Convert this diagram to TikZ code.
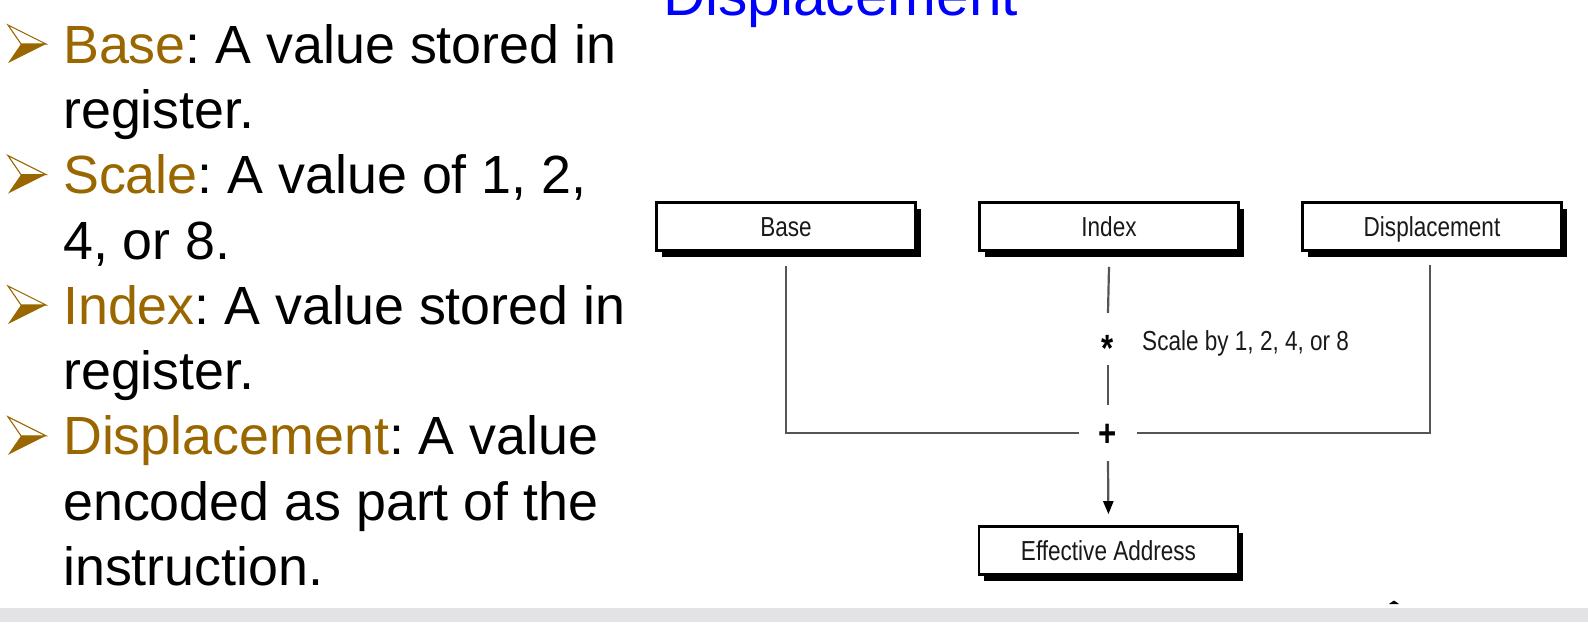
\documentclass[tikz,border=0pt]{standalone}
\usepackage{fontspec}
\setmainfont{Liberation Sans}
\newfontfamily\diagfont[FakeStretch=0.82]{Liberation Sans}
\usetikzlibrary{arrows.meta,shadows}
\definecolor{keybrown}{RGB}{153,102,0}
\definecolor{titleblue}{RGB}{0,0,255}
\definecolor{bandgray}{RGB}{227,227,229}
\definecolor{linegray}{RGB}{85,85,85}
\frenchspacing
\begin{document}
\begin{tikzpicture}[x=1pt,y=-1pt,
  bullettext/.style={anchor=base west, inner sep=0pt, font=\fontsize{53.8}{53.8}\selectfont},
  regbox/.style={draw=black, line width=2.6pt, fill=white, minimum width=259pt,
    minimum height=48pt, inner sep=0pt, text=black!90, text height=20pt, text depth=1pt,
    font=\diagfont\fontsize{27.5}{27.5}\selectfont,
    drop shadow={shadow xshift=5pt, shadow yshift=-6pt, opacity=1, fill=black}},
  opnode/.style={inner sep=0pt, text=black},
  diaglabel/.style={inner sep=0pt, text=black!90, font=\diagfont\fontsize{27.5}{27.5}\selectfont},
  conn/.style={draw=linegray, line width=2.2pt}
]
\useasboundingbox (0,0) rectangle (1588,622);
% bottom band
\fill[bandgray] (0,608) rectangle (1588,622);
\fill[black] (1389,604) -- (1394,600.5) -- (1399,604) -- cycle;
% title (cut off at top, as in the reference)
\node[anchor=base west, inner sep=0pt, text=titleblue,
  font=\fontsize{58.6}{58.6}\selectfont] (title) at (663,15) {Displacement};
% bullets
\foreach \b in {63,193.6,324,454.8}{
  \draw[keybrown, line width=1.1pt, line join=miter] (8,{\b-38}) -- (46,{\b-19}) -- (21,{\b-19}) -- cycle;
  \fill[keybrown] (21,{\b-19}) -- (46,{\b-19}) -- (8,{\b}) -- cycle;
}
\node[bullettext] (l1) at (63,63) {\textcolor{keybrown}{Base}: A value stored in};
\node[bullettext] (l2) at (63,128.3) {register.};
\node[bullettext] (l3) at (63,193.6) {\textcolor{keybrown}{Scale}: A value of 1, 2,};
\node[bullettext] (l4) at (63,259) {4, or 8.};
\node[bullettext] (l5) at (63,324) {\textcolor{keybrown}{Index}: A value stored in};
\node[bullettext] (l6) at (63,389.5) {register.};
\node[bullettext] (l7) at (63,454.8) {\textcolor{keybrown}{Displacement}: A value};
\node[bullettext] (l8) at (63,520) {encoded as part of the};
\node[bullettext] (l9) at (63,585.4) {instruction.};
% diagram
\node[regbox] (base) at (786,226.5) {Base};
\node[regbox] (index) at (1109,226.5) {Index};
\node[regbox] (disp) at (1432,226.5) {Displacement};
\node[regbox] (ea) at (1108.5,550.5) {Effective Address};
\node[opnode, minimum width=20pt, minimum height=52pt] (star) at (1108,339)
  {\smash{\raisebox{-22pt}{\diagfont\bfseries\fontsize{38}{38}\selectfont *}}};
\node[opnode, minimum width=57pt, minimum height=56pt] (plus) at (1108,433)
  {\smash{\raisebox{-13pt}{\diagfont\bfseries\fontsize{38}{38}\selectfont +}}};
\node[diaglabel, anchor=west] (scalelbl) at (1142,343) {Scale by 1, 2, 4, or 8};
\draw[conn] ([yshift=-14pt]base.south) |- (plus.west);
\draw[conn] ([xshift=-2pt,yshift=-13pt]disp.south) |- (plus.east);
\draw[conn] ([yshift=-15pt]index.south) -- (star.north);
\draw[conn] (star.south) -- (plus.north);
\draw[conn, -{Triangle[width=10pt,length=13pt,color=black]}, shorten >=11pt] (plus.south) -- (ea.north);
\end{tikzpicture}
\end{document}
